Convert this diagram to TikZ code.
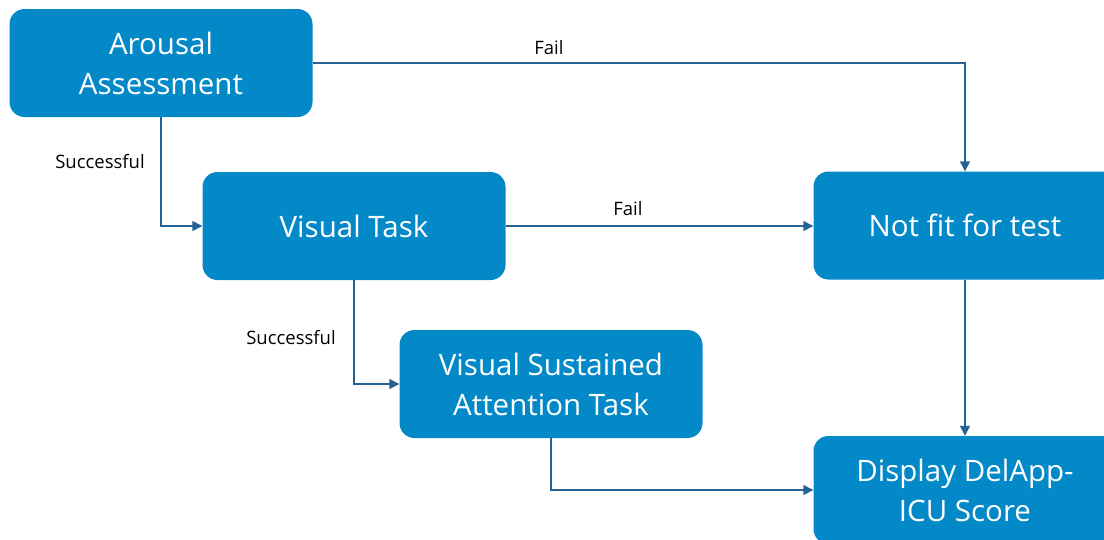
\documentclass[tikz,border=0pt]{standalone}
\usepackage{fontspec}
\setmainfont[Ligatures=NoCommon]{Open Sans}
\usetikzlibrary{arrows.meta}
\definecolor{boxblue}{RGB}{3,137,200}
\definecolor{linkblue}{RGB}{36,98,150}
\tikzset{
  stepbox/.style={rectangle, rounded corners=15pt, fill=boxblue, text=white,
    minimum width=303pt, minimum height=108pt, align=center,
    font=\fontsize{29.5}{40}\selectfont, inner sep=0pt},
  conn/.style={draw=linkblue, line width=1.4pt,
    -{Triangle[length=10pt,width=10pt]}},
  lbl/.style={text=black, font=\fontsize{18.5}{22}\selectfont, inner sep=0pt}
}
\begin{document}
\begin{tikzpicture}[x=1pt,y=-1pt]
\useasboundingbox (0,0) rectangle (1104,539);
\clip (0,0) rectangle (1104,539);

% process boxes
\node[stepbox] (arousal) at (161,63) {Arousal\\Assessment};
\node[stepbox] (visual)  at (354,226) {Visual Task};
\node[stepbox] (vsat)    at (551,384) {Visual Sustained\\Attention Task};
\node[stepbox] (notfit)  at (965,225.5) {Not fit for test};
\node[stepbox] (display) at (965,490) {Display DelApp-\\ICU Score};

% transitions
\draw[conn] (arousal.east) -| (notfit.north);
\draw[conn] (arousal.south) |- (visual.west);
\draw[conn] (visual.east) -- (visual.east -| notfit.west);
\draw[conn] (visual.south) |- (vsat.west);
\draw[conn] (vsat.south) |- (display.west);
\draw[conn] (notfit.south) -- (display.north);

% transition labels
\node[lbl] (fail1) at (549,48) {Fail};
\node[lbl] (fail2) at (628,209) {Fail};
\node[lbl] (ok1) at (100,162) {Successful};
\node[lbl] (ok2) at (291,338) {Successful};
\end{tikzpicture}
\end{document}
